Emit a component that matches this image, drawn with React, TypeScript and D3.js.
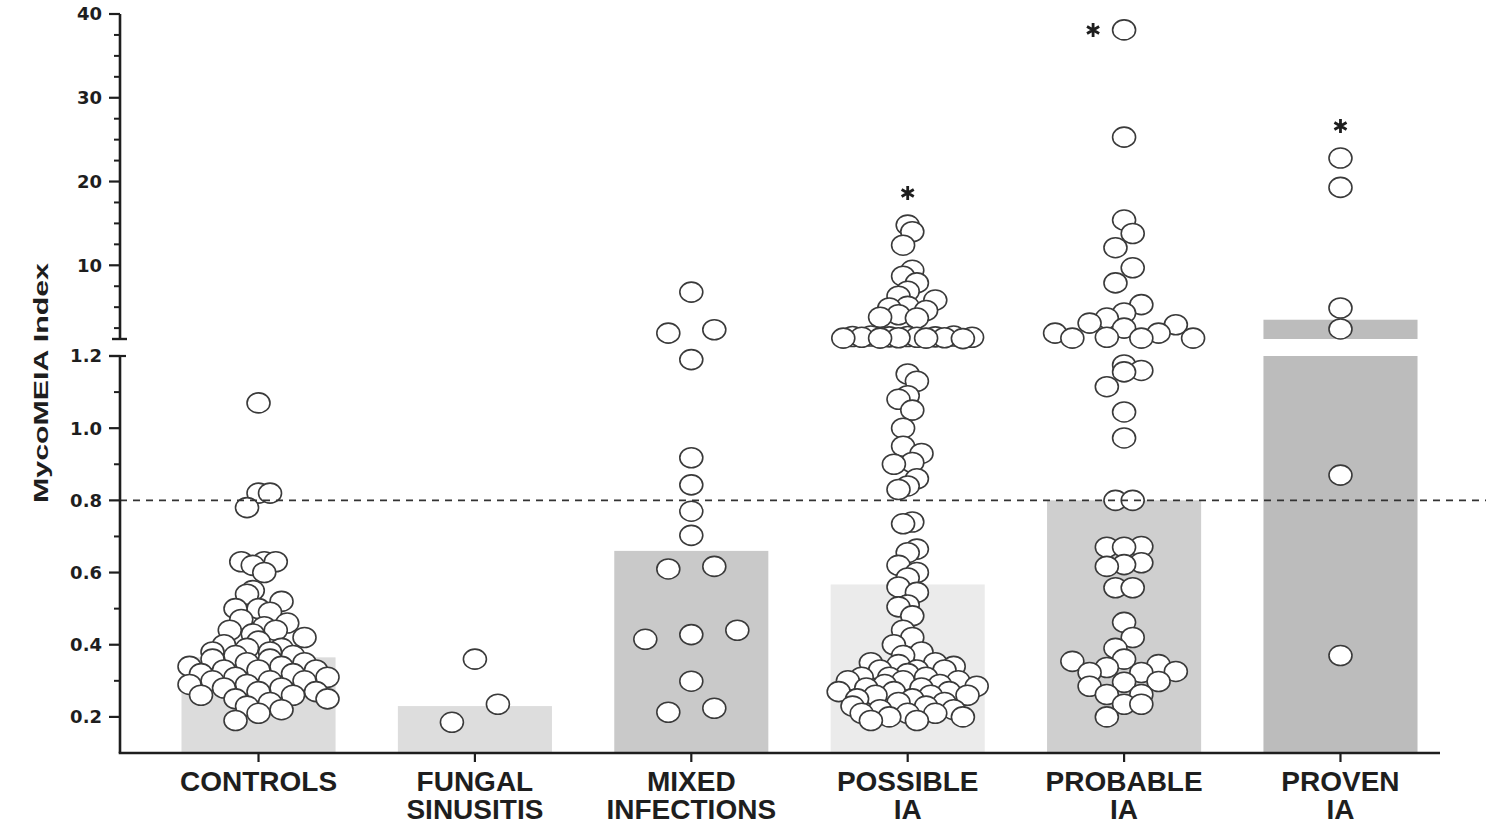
import React from "react";
import * as d3 from "d3";

// ---- data ----
const categoryLines: string[][] = [
  ["CONTROLS"],
  ["FUNGAL", "SINUSITIS"],
  ["MIXED", "INFECTIONS"],
  ["POSSIBLE", "IA"],
  ["PROBABLE", "IA"],
  ["PROVEN", "IA"],
];

// median MycoMEIA index per group (bar heights)
const medians = [0.365, 0.23, 0.66, 0.567, 0.8, 3.5];

const controls = [
  1.07, 0.82, 0.82, 0.78, 0.63, 0.63, 0.63, 0.62, 0.6, 0.55, 0.54,
  0.52, 0.5, 0.5, 0.49, 0.47, 0.46,
  0.45, 0.44, 0.44, 0.43, 0.42, 0.41, 0.4,
  0.39, 0.39, 0.38, 0.38, 0.37, 0.37, 0.36, 0.36,
  0.35, 0.35, 0.34, 0.34, 0.33, 0.33, 0.33, 0.32, 0.32, 0.31, 0.31,
  0.3, 0.3, 0.3, 0.29, 0.29, 0.28, 0.28, 0.27, 0.27, 0.26,
  0.26, 0.25, 0.25, 0.24, 0.23, 0.22, 0.21, 0.19,
];

const fungalSinusitis = [0.36, 0.235, 0.185];

const mixedInfections = [
  6.8, 2.3, 1.9, 1.19, 0.918, 0.843, 0.77, 0.703, 0.617, 0.61, 0.44, 0.428,
  0.415, 0.299, 0.224, 0.213,
];

const possibleIA = [
  14.8, 14.0, 12.4, 9.4, 8.7, 7.9, 6.9, 6.3, 5.85, 5.1, 4.9, 4.6, 4.1, 3.8, 3.7,
  1.55, 1.55, 1.5, 1.5, 1.45, 1.45, 1.4, 1.4, 1.4, 1.35, 1.35, 1.3, 1.3, 1.3, 1.25,
  1.15, 1.13, 1.09, 1.08, 1.05, 1.0, 0.95, 0.93, 0.905, 0.9, 0.86, 0.84, 0.83,
  0.74, 0.735, 0.665, 0.655, 0.62, 0.6, 0.585,
  0.56, 0.545, 0.51, 0.505, 0.48, 0.44, 0.42, 0.4, 0.38, 0.37, 0.35, 0.35, 0.345,
  0.34, 0.33, 0.33, 0.33, 0.32, 0.31, 0.31, 0.31, 0.3, 0.3, 0.3, 0.29, 0.29,
  0.285, 0.28, 0.28, 0.27, 0.27, 0.27, 0.26, 0.26, 0.26, 0.25, 0.25, 0.24, 0.24,
  0.23, 0.23, 0.22, 0.22, 0.21, 0.21, 0.21, 0.2, 0.2, 0.19, 0.19,
];

const probableIA = [
  38.1, 25.3, 15.4, 13.8, 12.1, 9.7, 7.9, 5.3, 4.3, 3.7, 3.1, 2.9, 2.5, 1.9, 1.9,
  1.4, 1.3, 1.3, 1.3,
  1.175, 1.16, 1.156, 1.115, 1.045, 0.973, 0.8, 0.8,
  0.672, 0.67, 0.67, 0.627, 0.622, 0.617, 0.558, 0.558, 0.462, 0.42,
  0.39, 0.36, 0.354, 0.345, 0.337, 0.326, 0.323, 0.323, 0.298, 0.296, 0.285,
  0.262, 0.262, 0.235, 0.235, 0.2,
];

const provenIA = [22.8, 19.3, 4.9, 2.4, 0.87, 0.37];

const groups = [controls, fungalSinusitis, mixedInfections, possibleIA, probableIA, provenIA];
const significant = [false, false, false, true, true, true];

const cutoff = 0.8;
const lowerTicks = [0.2, 0.4, 0.6, 0.8, 1.0, 1.2];
const lowerMinorTicks = [0.3, 0.5, 0.7, 0.9, 1.1];
const upperTicks = [10, 20, 30, 40];
const upperMinorTicks = [2.5, 5, 7.5, 12.5, 15, 17.5, 22.5, 25, 27.5, 32.5, 35, 37.5];

// ---- styles ----
const barFills = ["#dcdcdc", "#dddddd", "#c9c9c9", "#ebebeb", "#cfcfcf", "#bcbcbc"];
const ink = "#1e1e1e";
const W = 1486;
const H = 826;
const axisX = 120;
const axisBottom = 753;
const breakValue = 1.2;
const rx = 11.5;
const ry = 10;
const rowHeight = 19; // vertical extent of one scatter row, px
const rowSpan = 138; // widest allowed row, centre to centre, px
const maxStep = 46; // largest gap between neighbours in a row, px

// broken y axis: linear lower segment and compressed upper segment
const yLow = d3.scaleLinear().domain([0.1, breakValue]).range([axisBottom, 356]);
const yHigh = d3.scaleLinear().domain([breakValue, 40]).range([339, 14]);
const yPos = (v: number) => (v <= breakValue ? yLow(v) : yHigh(v));

const x = d3
  .scaleBand<number>()
  .domain(d3.range(groups.length))
  .range([150, 1449])
  .paddingInner(0.288)
  .paddingOuter(0.1455);

// column scatter: points falling in the same row band are spread side by side;
// within a row the slots are handed out in a fixed interleaved order
function scatterOffsets(ys: number[]): number[] {
  const order = ys.map((_, i) => i).sort((a, b) => ys[b] - ys[a]);
  const rows: number[][] = [];
  let cur: number[] = [];
  let start = 0;
  for (const i of order) {
    if (cur.length && start - ys[i] < rowHeight) cur.push(i);
    else {
      if (cur.length) rows.push(cur);
      cur = [i];
      start = ys[i];
    }
  }
  if (cur.length) rows.push(cur);
  const maxN = d3.max(rows, (r) => r.length) ?? 1;
  const step = maxN > 1 ? Math.min(maxStep, rowSpan / (maxN - 1)) : maxStep;
  const out = new Array(ys.length).fill(0);
  rows.forEach((r) => {
    const n = r.length;
    const arranged =
      n <= 3
        ? r
        : [...r].sort((a, b) => ((a * 0.618034) % 1) - ((b * 0.618034) % 1));
    arranged.forEach((i, k) => {
      out[i] = (k - (n - 1) / 2) * step;
    });
  });
  return out;
}

function Asterisk({ cx, cy }: { cx: number; cy: number }) {
  const r = 7;
  const d = [90, 30, 150]
    .map((a) => {
      const t = (a * Math.PI) / 180;
      const dx = Math.cos(t) * r;
      const dy = Math.sin(t) * r;
      return `M${cx - dx},${cy - dy}L${cx + dx},${cy + dy}`;
    })
    .join("");
  return <path d={d} stroke={ink} strokeWidth={2.8} fill="none" />;
}

export default function App() {
  const bw = x.bandwidth();
  const points = groups.flatMap((vals, g) => {
    const ys = vals.map(yPos);
    const offs = scatterOffsets(ys);
    const cx = (x(g) ?? 0) + bw / 2;
    return vals.map((v, i) => ({ key: `${g}-${i}`, cx: cx + offs[i], cy: ys[i] }));
  });

  const tickFont = { fontFamily: "DejaVu Sans", fontWeight: 700, fontSize: 18, fill: ink } as const;

  return (
    <svg
      width={W}
      height={H}
      viewBox={`0 0 ${W} ${H}`}
      style={{ position: "absolute", left: 0, top: 0, background: "#fff" }}
    >
      {/* bars */}
      {medians.map((m, g) => {
        const x0 = x(g) ?? 0;
        if (m <= breakValue) {
          return (
            <rect key={g} x={x0} y={yLow(m)} width={bw} height={axisBottom - yLow(m)} fill={barFills[g]} />
          );
        }
        return (
          <g key={g}>
            <rect x={x0} y={yLow(breakValue)} width={bw} height={axisBottom - yLow(breakValue)} fill={barFills[g]} />
            <rect x={x0} y={yHigh(m)} width={bw} height={yHigh(breakValue) - yHigh(m)} fill={barFills[g]} />
          </g>
        );
      })}

      {/* points */}
      {points.map((p) => (
        <ellipse key={p.key} cx={p.cx} cy={p.cy} rx={rx} ry={ry} fill="#fff" stroke="#3a3a3a" strokeWidth={1.6} />
      ))}

      {/* positivity cutoff */}
      <line
        x1={axisX}
        x2={W}
        y1={yLow(cutoff)}
        y2={yLow(cutoff)}
        stroke="#333"
        strokeWidth={1.6}
        strokeDasharray="7 6"
      />

      {/* significance marks */}
      {groups.map((vals, g) => {
        if (!significant[g]) return null;
        const mx = d3.max(vals) ?? 0;
        const cx = (x(g) ?? 0) + bw / 2;
        const top = yPos(mx);
        return top - 30 > 12 ? (
          <Asterisk key={g} cx={cx} cy={top - 32} />
        ) : (
          <Asterisk key={g} cx={cx - 31} cy={top} />
        );
      })}

      {/* y axis: upper segment */}
      <line x1={axisX} x2={axisX} y1={yHigh(40)} y2={yHigh(breakValue)} stroke={ink} strokeWidth={2.6} />
      <line x1={axisX - 8} x2={axisX + 7} y1={yHigh(breakValue)} y2={yHigh(breakValue)} stroke={ink} strokeWidth={2.4} />
      {upperTicks.map((t) => (
        <g key={`u${t}`}>
          <line x1={axisX - 11} x2={axisX} y1={yHigh(t)} y2={yHigh(t)} stroke={ink} strokeWidth={2.2} />
          <text x={102} y={yHigh(t)} dy="0.36em" textAnchor="end" {...tickFont}>
            {t}
          </text>
        </g>
      ))}
      {upperMinorTicks.map((t) => (
        <line key={`um${t}`} x1={axisX - 6} x2={axisX} y1={yHigh(t)} y2={yHigh(t)} stroke={ink} strokeWidth={2} />
      ))}

      {/* y axis: lower segment */}
      <line x1={axisX} x2={axisX} y1={yLow(breakValue)} y2={axisBottom} stroke={ink} strokeWidth={2.6} />
      <line x1={axisX - 11} x2={axisX + 6} y1={yLow(breakValue)} y2={yLow(breakValue)} stroke={ink} strokeWidth={2.2} />
      {lowerTicks.map((t) => (
        <g key={`l${t}`}>
          <line x1={axisX - 11} x2={axisX} y1={yLow(t)} y2={yLow(t)} stroke={ink} strokeWidth={2.2} />
          <text x={102} y={yLow(t)} dy="0.36em" textAnchor="end" {...tickFont}>
            {d3.format(".1f")(t)}
          </text>
        </g>
      ))}
      {lowerMinorTicks.map((t) => (
        <line key={`lm${t}`} x1={axisX - 6} x2={axisX} y1={yLow(t)} y2={yLow(t)} stroke={ink} strokeWidth={2} />
      ))}

      {/* x axis */}
      <line x1={axisX - 1.3} x2={1440} y1={axisBottom} y2={axisBottom} stroke={ink} strokeWidth={2.6} />
      {categoryLines.map((lines, g) => {
        const cx = (x(g) ?? 0) + bw / 2;
        return (
          <g key={`c${g}`}>
            <line x1={cx} x2={cx} y1={axisBottom} y2={axisBottom + 9} stroke={ink} strokeWidth={2.2} />
            {lines.map((ln, k) => (
              <text
                key={k}
                x={cx}
                y={791 + k * 28}
                textAnchor="middle"
                fontFamily="Liberation Sans"
                fontWeight={700}
                fontSize={28}
                fill={ink}
              >
                {ln}
              </text>
            ))}
          </g>
        );
      })}

      {/* y axis title */}
      <text
        transform={`translate(48,383) rotate(-90)`}
        textAnchor="middle"
        fontFamily="Liberation Sans"
        fontWeight={700}
        fontSize={21}
        textLength={240}
        lengthAdjust="spacingAndGlyphs"
        fill={ink}
      >
        MycoMEIA Index
      </text>
    </svg>
  );
}
